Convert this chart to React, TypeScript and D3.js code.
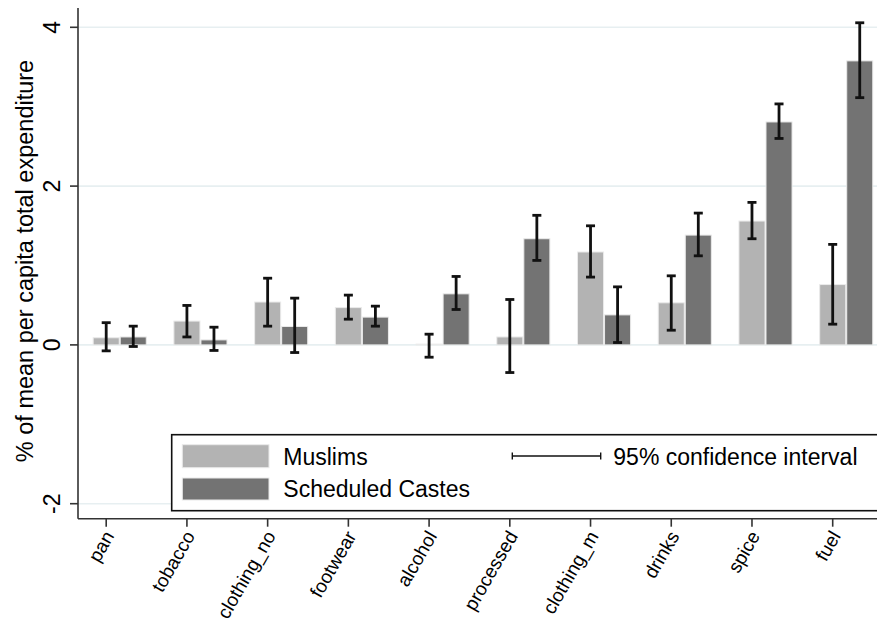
import React from "react";
import * as d3 from "d3";

const categories = ["pan", "tobacco", "clothing_no", "footwear", "alcohol", "processed", "clothing_m", "drinks", "spice", "fuel"];
const muslim = [0.09, 0.30, 0.54, 0.47, 0.01, 0.10, 1.17, 0.53, 1.56, 0.76];
const muslimLo = [-0.075, 0.10, 0.236, 0.324, -0.155, -0.348, 0.854, 0.185, 1.337, 0.261];
const muslimHi = [0.28, 0.497, 0.84, 0.627, 0.135, 0.572, 1.50, 0.87, 1.795, 1.266];
const sc = [0.10, 0.063, 0.232, 0.35, 0.643, 1.337, 0.378, 1.383, 2.808, 3.577];
const scLo = [-0.02, -0.07, -0.096, 0.236, 0.446, 1.064, 0.03, 1.122, 2.60, 3.114];
const scHi = [0.236, 0.223, 0.589, 0.488, 0.862, 1.632, 0.731, 1.66, 3.035, 4.057];
const yTicks = [-2, 0, 2, 4];
const seriesNames = ["Muslims", "Scheduled Castes"];
const ciLabel = "95% confidence interval";
const yTitle = "% of mean per capita total expenditure";

const W = 877, H = 621;
const FONT = "'Liberation Sans', Arial, Helvetica, sans-serif";
const LIGHT = "#b3b3b3";
const DARK = "#737373";

export default function App() {
  const x = d3.scaleLinear().domain([1, 10]).range([106.2, 832.7]);
  const y = d3.scaleLinear().domain([-2, 4]).range([503.7, 27.3]);
  const axisX = 78;
  const axisY = 518.7;
  const plotTop = 8;
  const offset = 0.335;
  const bw = x(offset) - x(0) - 1;
  const cap = 4.5;

  const series = [
    { vals: muslim, lo: muslimLo, hi: muslimHi, color: LIGHT, off: 0 },
    { vals: sc, lo: scLo, hi: scHi, color: DARK, off: offset },
  ];

  return (
    <svg width={W} height={H} style={{ position: "absolute", left: 0, top: 0, background: "#fff" }} fontFamily={FONT}>
      <rect x={0} y={0} width={W} height={H} fill="#fff" />
      {yTicks.map((t) => (
        <line key={"g" + t} x1={axisX} x2={W} y1={y(t)} y2={y(t)} stroke="#e7eff1" strokeWidth={1.6} />
      ))}
      {series.map((s, si) =>
        categories.map((c, i) => {
          const cx = x(i + 1 + s.off);
          const y0 = y(0), y1 = y(s.vals[i]);
          return (
            <rect key={"b" + si + i} x={cx - bw / 2} width={bw} y={Math.min(y0, y1)} height={Math.abs(y0 - y1)}
              fill={s.color} stroke="#eaeaea" strokeWidth={1} />
          );
        })
      )}
      {series.map((s, si) =>
        categories.map((c, i) => {
          const cx = x(i + 1 + s.off);
          const yl = y(s.lo[i]), yh = y(s.hi[i]);
          return (
            <g key={"e" + si + i} stroke="#111" strokeWidth={2.8}>
              <line x1={cx} x2={cx} y1={yl} y2={yh} />
              <line x1={cx - cap} x2={cx + cap} y1={yl} y2={yl} />
              <line x1={cx - cap} x2={cx + cap} y1={yh} y2={yh} />
            </g>
          );
        })
      )}
      <line x1={axisX} x2={axisX} y1={plotTop} y2={axisY} stroke="#333" strokeWidth={1.6} />
      {yTicks.map((t) => (
        <g key={"yt" + t}>
          <line x1={axisX - 8} x2={axisX} y1={y(t)} y2={y(t)} stroke="#333" strokeWidth={1.6} />
          <text transform={`translate(60,${y(t)}) rotate(-90)`} textAnchor="middle" fontSize={23} fill="#000">{t}</text>
        </g>
      ))}
      <text transform={`translate(33,261) rotate(-90)`} textAnchor="middle" fontSize={23.5} fill="#000">{yTitle}</text>
      <line x1={axisX} x2={W} y1={axisY} y2={axisY} stroke="#333" strokeWidth={1.6} />
      {categories.map((c, i) => (
        <g key={"xt" + c}>
          <line x1={x(i + 1)} x2={x(i + 1)} y1={axisY} y2={axisY + 8} stroke="#333" strokeWidth={1.6} />
          <text transform={`translate(${x(i + 1) + 3},${axisY + 14}) rotate(-60)`} textAnchor="end" dominantBaseline="central" fontSize={19} fill="#000">{c}</text>
        </g>
      ))}
      <rect x={171.7} y={434.7} width={W} height={76} fill="#fff" stroke="#111" strokeWidth={1.6} />
      <rect x={182.3} y={444.7} width={86.7} height={23} fill={LIGHT} stroke="#eaeaea" strokeWidth={1} />
      <rect x={182.3} y={478} width={86.7} height={22} fill={DARK} stroke="#eaeaea" strokeWidth={1} />
      <text x={283.3} y={465} fontSize={23} fill="#000">{seriesNames[0]}</text>
      <text x={283.3} y={496.7} fontSize={23} fill="#000">{seriesNames[1]}</text>
      <g stroke="#111" strokeWidth={1.4}>
        <line x1={512.3} x2={600.7} y1={456} y2={456} />
        <line x1={512.3} x2={512.3} y1={452.5} y2={459.5} />
        <line x1={600.7} x2={600.7} y1={452.5} y2={459.5} />
      </g>
      <text x={613.3} y={465} fontSize={23} fill="#000">{ciLabel}</text>
    </svg>
  );
}
